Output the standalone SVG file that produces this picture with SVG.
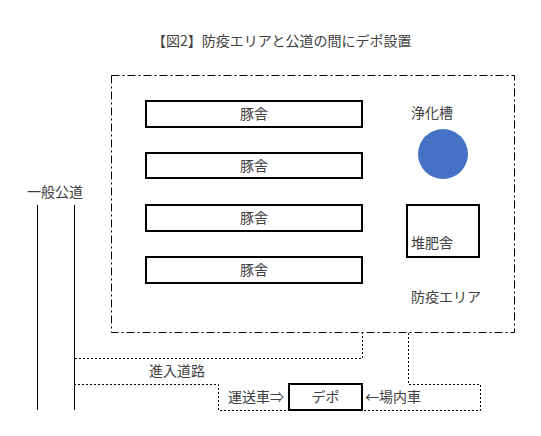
<svg xmlns="http://www.w3.org/2000/svg" width="541" height="436" viewBox="0 0 541 436">
<style>
text{font-family:"Noto Sans CJK JP","Noto Sans",sans-serif;font-size:14px;fill:#404040}
.box{fill:#fff;stroke:#000;stroke-width:2}
.area{fill:none;stroke:#000;stroke-width:1;stroke-dasharray:8 3 2 3}
.road{fill:none;stroke:#000;stroke-width:1}
.dot{fill:none;stroke:#000;stroke-width:1;stroke-dasharray:2 2}
</style>
<rect width="541" height="436" fill="#fff"/>
<text id="title" x="152" y="46" font-size="15.5">【図2】防疫エリアと公道の間にデポ設置</text>
<g id="area"><rect class="area" x="111.5" y="75.5" width="403" height="257"/><text x="411" y="302">防疫エリア</text></g>
<g id="pig1"><rect class="box" x="146" y="101" width="216" height="26"/><text x="254" y="119" text-anchor="middle">豚舎</text></g>
<g id="pig2"><rect class="box" x="146" y="153" width="216" height="25"/><text x="254" y="171" text-anchor="middle">豚舎</text></g>
<g id="pig3"><rect class="box" x="146" y="205" width="216" height="26"/><text x="254" y="223" text-anchor="middle">豚舎</text></g>
<g id="pig4"><rect class="box" x="146" y="257" width="216" height="26"/><text x="254" y="275" text-anchor="middle">豚舎</text></g>
<g id="tank"><text x="411" y="118">浄化槽</text><circle cx="443" cy="154" r="25" fill="#4472c4"/></g>
<g id="compost"><rect class="box" x="407" y="205" width="72" height="52"/><text x="411" y="248">堆肥舎</text></g>
<g id="publicroad"><text x="27" y="197">一般公道</text><line class="road" x1="37.5" y1="205" x2="37.5" y2="410"/><line class="road" x1="74.5" y1="205" x2="74.5" y2="410"/></g>
<g id="connectors">
<path class="dot" d="M75 358.5H362.5V333"/>
<path class="dot" d="M408.5 333V384.5H480.5V410.5H218.5V384.5H75"/>
</g>
<text id="entry" x="149" y="376">進入道路</text>
<g id="depot"><rect class="box" x="289" y="384" width="73" height="26"/><text x="325.5" y="402" text-anchor="middle">デポ</text></g>
<text x="228" y="402">運送車⇒</text>
<text x="365" y="402">←場内車</text>
</svg>
